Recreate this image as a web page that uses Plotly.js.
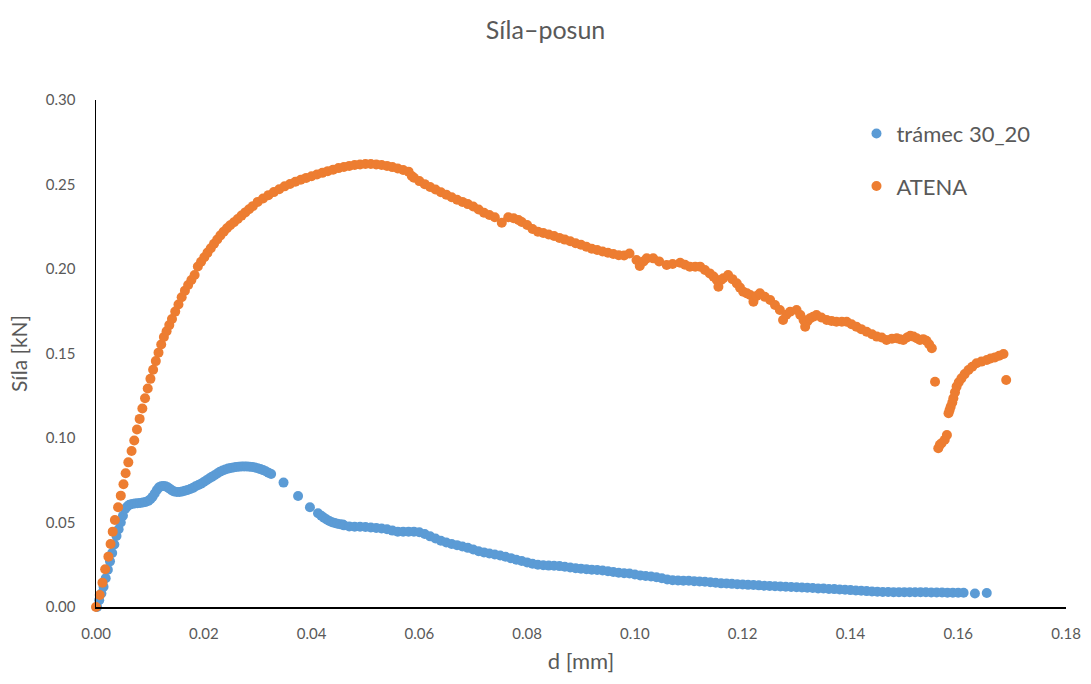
<!DOCTYPE html>
<html>
<head>
<meta charset="utf-8">
<script src="https://cdn.plot.ly/plotly-3.0.1.min.js"></script>
<style>html,body{margin:0;padding:0;background:#fff;}#chart{width:1091px;height:684px;}</style>
</head>
<body>
<div id="chart"></div>
<script>
// ---- data ----
const seriesNames = ["trámec 30_20", "ATENA"];

const tramecX = [0.0002,0.0006,0.0010,0.0014,0.0018,0.0022,0.0026,0.0030,0.0034,0.0038,0.0042,0.0046,0.0050,0.0054,0.0058,0.0062,0.0067,0.0072,0.0077,0.0082,0.0087,0.0092,0.0097,0.0101,0.0105,0.0109,0.0113,0.0117,0.0121,0.0125,0.0129,0.0133,0.0137,0.0141,0.0145,0.0150,0.0155,0.0160,0.0165,0.0170,0.0175,0.0180,0.0185,0.0190,0.0195,0.0200,0.0205,0.0210,0.0215,0.0220,0.0225,0.0230,0.0235,0.0240,0.0245,0.0250,0.0255,0.0260,0.0265,0.0270,0.0275,0.0280,0.0285,0.0290,0.0295,0.0300,0.0305,0.0310,0.0315,0.0320,0.0325,0.0348,0.0375,0.0397,0.0412,0.0418,0.0423,0.0428,0.0433,0.0438,0.0443,0.0448,0.0453,0.0458,0.046,0.047,0.048,0.049,0.050,0.051,0.052,0.053,0.054,0.055,0.056,0.057,0.058,0.059,0.060,0.061,0.062,0.063,0.064,0.065,0.066,0.067,0.068,0.069,0.070,0.071,0.072,0.073,0.074,0.075,0.076,0.077,0.078,0.079,0.080,0.081,0.082,0.083,0.084,0.085,0.086,0.087,0.088,0.089,0.090,0.091,0.092,0.093,0.094,0.095,0.096,0.097,0.098,0.099,0.100,0.101,0.102,0.103,0.104,0.105,0.106,0.107,0.108,0.109,0.110,0.111,0.112,0.113,0.114,0.115,0.116,0.117,0.118,0.119,0.120,0.121,0.122,0.123,0.124,0.125,0.126,0.127,0.128,0.129,0.130,0.131,0.132,0.133,0.134,0.135,0.136,0.137,0.138,0.139,0.140,0.141,0.142,0.143,0.144,0.145,0.146,0.147,0.148,0.149,0.150,0.151,0.152,0.153,0.154,0.155,0.156,0.157,0.158,0.159,0.160,0.161,0.1631,0.1653];
const tramecY = [0.000,0.004,0.008,0.012,0.017,0.022,0.027,0.032,0.037,0.042,0.046,0.050,0.054,0.058,0.0595,0.0605,0.061,0.0612,0.0614,0.0616,0.0618,0.0622,0.0628,0.0638,0.0652,0.0672,0.0692,0.0708,0.0715,0.0716,0.0714,0.0708,0.0700,0.0690,0.0684,0.0680,0.0680,0.0683,0.0688,0.0692,0.0698,0.0705,0.0714,0.0722,0.0730,0.0740,0.0750,0.0760,0.0770,0.0780,0.0790,0.0800,0.0808,0.0814,0.0819,0.0823,0.0826,0.0828,0.0830,0.0831,0.0831,0.0831,0.0830,0.0828,0.0825,0.0821,0.0816,0.0810,0.0803,0.0795,0.0787,0.0736,0.0657,0.0590,0.0555,0.0540,0.0528,0.0518,0.0509,0.0502,0.0497,0.0493,0.0490,0.0488,0.0483,0.0477,0.0475,0.0475,0.0473,0.0470,0.0468,0.0465,0.0460,0.0452,0.0446,0.0446,0.0446,0.0446,0.0442,0.0432,0.0418,0.0405,0.0392,0.0382,0.0373,0.0366,0.0358,0.0350,0.0340,0.0330,0.0323,0.0317,0.0311,0.0305,0.0297,0.0289,0.0280,0.0272,0.0264,0.0256,0.0250,0.0247,0.0245,0.0244,0.0242,0.0238,0.0234,0.0230,0.0227,0.0224,0.0221,0.0219,0.0216,0.0212,0.0207,0.0203,0.0200,0.0198,0.0192,0.0187,0.0183,0.0180,0.0176,0.0170,0.0163,0.0159,0.0157,0.0156,0.0155,0.0153,0.0151,0.0149,0.0146,0.0143,0.0140,0.0139,0.0137,0.0135,0.0133,0.0131,0.0130,0.0128,0.0126,0.0125,0.0123,0.0121,0.0120,0.0118,0.0117,0.0115,0.0114,0.0112,0.0110,0.0109,0.0107,0.0106,0.0104,0.0102,0.0100,0.0098,0.0096,0.0094,0.0092,0.0090,0.0089,0.0089,0.0088,0.0088,0.0088,0.0088,0.0087,0.0087,0.0087,0.0086,0.0086,0.0086,0.0085,0.0085,0.0084,0.0084,0.0080,0.0083];

const atenaX = [0.0000,0.0007,0.0012,0.0017,0.0023,0.0027,0.0031,0.0035,0.0041,0.0046,0.0051,0.0055,0.0060,0.0066,0.0071,0.0076,0.0081,0.0086,0.0091,0.0096,0.0101,0.0106,0.0111,0.0116,0.0121,0.0126,0.0131,0.0136,0.0141,0.0147,0.0153,0.0159,0.0165,0.0171,0.0177,0.0183,0.0189,0.0195,0.0201,0.0207,0.0213,0.0219,0.0225,0.0231,0.0237,0.0243,0.0249,0.0256,0.0263,0.0270,0.0277,0.0284,0.0291,0.030,0.031,0.032,0.033,0.034,0.035,0.036,0.037,0.038,0.039,0.040,0.041,0.042,0.043,0.044,0.045,0.046,0.047,0.048,0.049,0.050,0.051,0.052,0.053,0.054,0.055,0.056,0.057,0.058,0.0586,0.059,0.060,0.061,0.062,0.063,0.064,0.065,0.066,0.067,0.068,0.069,0.070,0.071,0.072,0.073,0.074,0.0753,0.0765,0.0775,0.0784,0.079,0.080,0.081,0.082,0.083,0.084,0.085,0.086,0.087,0.088,0.089,0.090,0.091,0.092,0.093,0.094,0.095,0.096,0.097,0.098,0.099,0.1003,0.1009,0.1016,0.1022,0.1034,0.1045,0.1059,0.107,0.1084,0.1093,0.1102,0.1112,0.1121,0.1130,0.1139,0.1146,0.1152,0.1155,0.1160,0.1164,0.1173,0.1181,0.1189,0.1195,0.1201,0.1208,0.1214,0.1220,0.1226,0.1232,0.1241,0.1251,0.1260,0.1269,0.1275,0.1281,0.1288,0.1300,0.1307,0.1313,0.1316,0.1320,0.1325,0.1331,0.1337,0.1346,0.1356,0.1365,0.1374,0.1384,0.1393,0.1402,0.1411,0.1420,0.1430,0.1440,0.1449,0.1458,0.1467,0.1477,0.1486,0.1492,0.1498,0.1505,0.1511,0.1517,0.1523,0.1529,0.1535,0.1541,0.1546,0.1551,0.1557,0.1563,0.1566,0.1569,0.1575,0.1579,0.1582,0.1584,0.1586,0.1589,0.1591,0.1594,0.1597,0.1601,0.1606,0.1612,0.1619,0.1626,0.1634,0.1643,0.1653,0.1660,0.1668,0.1676,0.1684,0.1689];
const atenaY = [0.0000,0.0071,0.0144,0.0223,0.0298,0.0373,0.0446,0.0515,0.0590,0.0659,0.0726,0.0791,0.0856,0.0923,0.0985,0.1050,0.1113,0.1175,0.1235,0.1293,0.1350,0.1404,0.1455,0.1505,0.1553,0.1598,0.1632,0.1668,0.1704,0.1748,0.1790,0.1833,0.1872,0.1905,0.1935,0.1964,0.2015,0.2043,0.2070,0.2097,0.2123,0.2149,0.2175,0.2199,0.2221,0.2241,0.2259,0.2277,0.2296,0.2316,0.2335,0.2354,0.2372,0.2397,0.2417,0.2437,0.2455,0.2472,0.2489,0.2503,0.2516,0.2528,0.2539,0.2549,0.2559,0.2569,0.2579,0.2588,0.2597,0.2604,0.2610,0.2615,0.2619,0.2621,0.2621,0.2619,0.2615,0.2610,0.2603,0.2595,0.2586,0.2576,0.2550,0.2540,0.2520,0.2502,0.2485,0.2470,0.2454,0.2440,0.2425,0.2410,0.2397,0.2384,0.2370,0.2352,0.2333,0.2320,0.2306,0.2274,0.2306,0.2300,0.2290,0.2278,0.2260,0.2237,0.2221,0.2213,0.2204,0.2195,0.2184,0.2174,0.2164,0.2152,0.2143,0.2132,0.2120,0.2112,0.2104,0.2096,0.2089,0.2082,0.2080,0.2092,0.2053,0.2018,0.2045,0.2063,0.2063,0.2045,0.2024,0.2030,0.2037,0.2025,0.2014,0.2014,0.2014,0.1994,0.1974,0.1955,0.1935,0.1895,0.1935,0.1945,0.1964,0.1940,0.1915,0.1890,0.1866,0.1856,0.1846,0.1806,0.1840,0.1856,0.1836,0.1817,0.1787,0.1757,0.1698,0.1730,0.1747,0.1757,0.1728,0.1698,0.1659,0.1690,0.1708,0.1718,0.1728,0.1713,0.1698,0.1693,0.1688,0.1688,0.1688,0.1673,0.1659,0.1644,0.1629,0.1614,0.1600,0.1595,0.1580,0.1588,0.1590,0.1585,0.1580,0.1595,0.1605,0.1600,0.1590,0.1580,0.1585,0.1575,0.1555,0.1531,0.1333,0.0939,0.0960,0.0969,0.0990,0.1018,0.1146,0.1165,0.1185,0.1210,0.1235,0.1270,0.1304,0.1330,0.1353,0.1378,0.1402,0.1422,0.1442,0.1452,0.1462,0.1470,0.1477,0.1487,0.1497,0.1343];

const xTickVals = [0,0.02,0.04,0.06,0.08,0.10,0.12,0.14,0.16,0.18];
const yTickVals = [0,0.05,0.10,0.15,0.20,0.25,0.30];

const FONT = "Lato, 'Open Sans', sans-serif";
const GREY = "#595959";

const traces = [
  {x: tramecX, y: tramecY, name: seriesNames[0], type: "scatter", mode: "markers",
   legendgroup: "a", cliponaxis: false,
   marker: {color: "#5B9BD5", size: 10}},
  {x: atenaX, y: atenaY, name: seriesNames[1], type: "scatter", mode: "markers",
   legendgroup: "b", cliponaxis: false,
   marker: {color: "#ED7D31", size: 10}}
];

const layout = {
  width: 1091, height: 684,
  paper_bgcolor: "#ffffff", plot_bgcolor: "#ffffff",
  margin: {l: 96, r: 25, t: 100, b: 77},
  font: {family: FONT, color: GREY, size: 15},
  title: {text: "Síla–posun", font: {family: FONT, size: 25, color: GREY},
          x: 0.5, xref: "container", y: 1 - 30/684, yref: "container", yanchor: "middle"},
  xaxis: {range: [0, 0.18], tickvals: xTickVals, tickformat: ".2f", showgrid: false, zeroline: false,
          showline: true, linecolor: "#000000", linewidth: 1.5, ticks: "", ticklabelstandoff: 12,
          tickfont: {size: 15, color: GREY},
          title: {text: "d [mm]", font: {size: 22, color: GREY}, standoff: 13}},
  yaxis: {range: [0, 0.30], tickvals: yTickVals, tickformat: ".2f", showgrid: false, zeroline: false,
          showline: true, linecolor: "#000000", linewidth: 1.5, ticks: "", ticklabelstandoff: 16,
          tickfont: {size: 15, color: GREY},
          title: {text: "Síla [kN]", font: {size: 21, color: GREY}, standoff: 12}},
  showlegend: true,
  legend: {x: 0.784, y: 0.975, xanchor: "left", yanchor: "top", traceorder: "grouped",
           tracegroupgap: 21, font: {size: 22, color: GREY}, bgcolor: "rgba(0,0,0,0)"}
};

Plotly.newPlot("chart", traces, layout, {displayModeBar: false, staticPlot: true});
</script>
</body>
</html>
